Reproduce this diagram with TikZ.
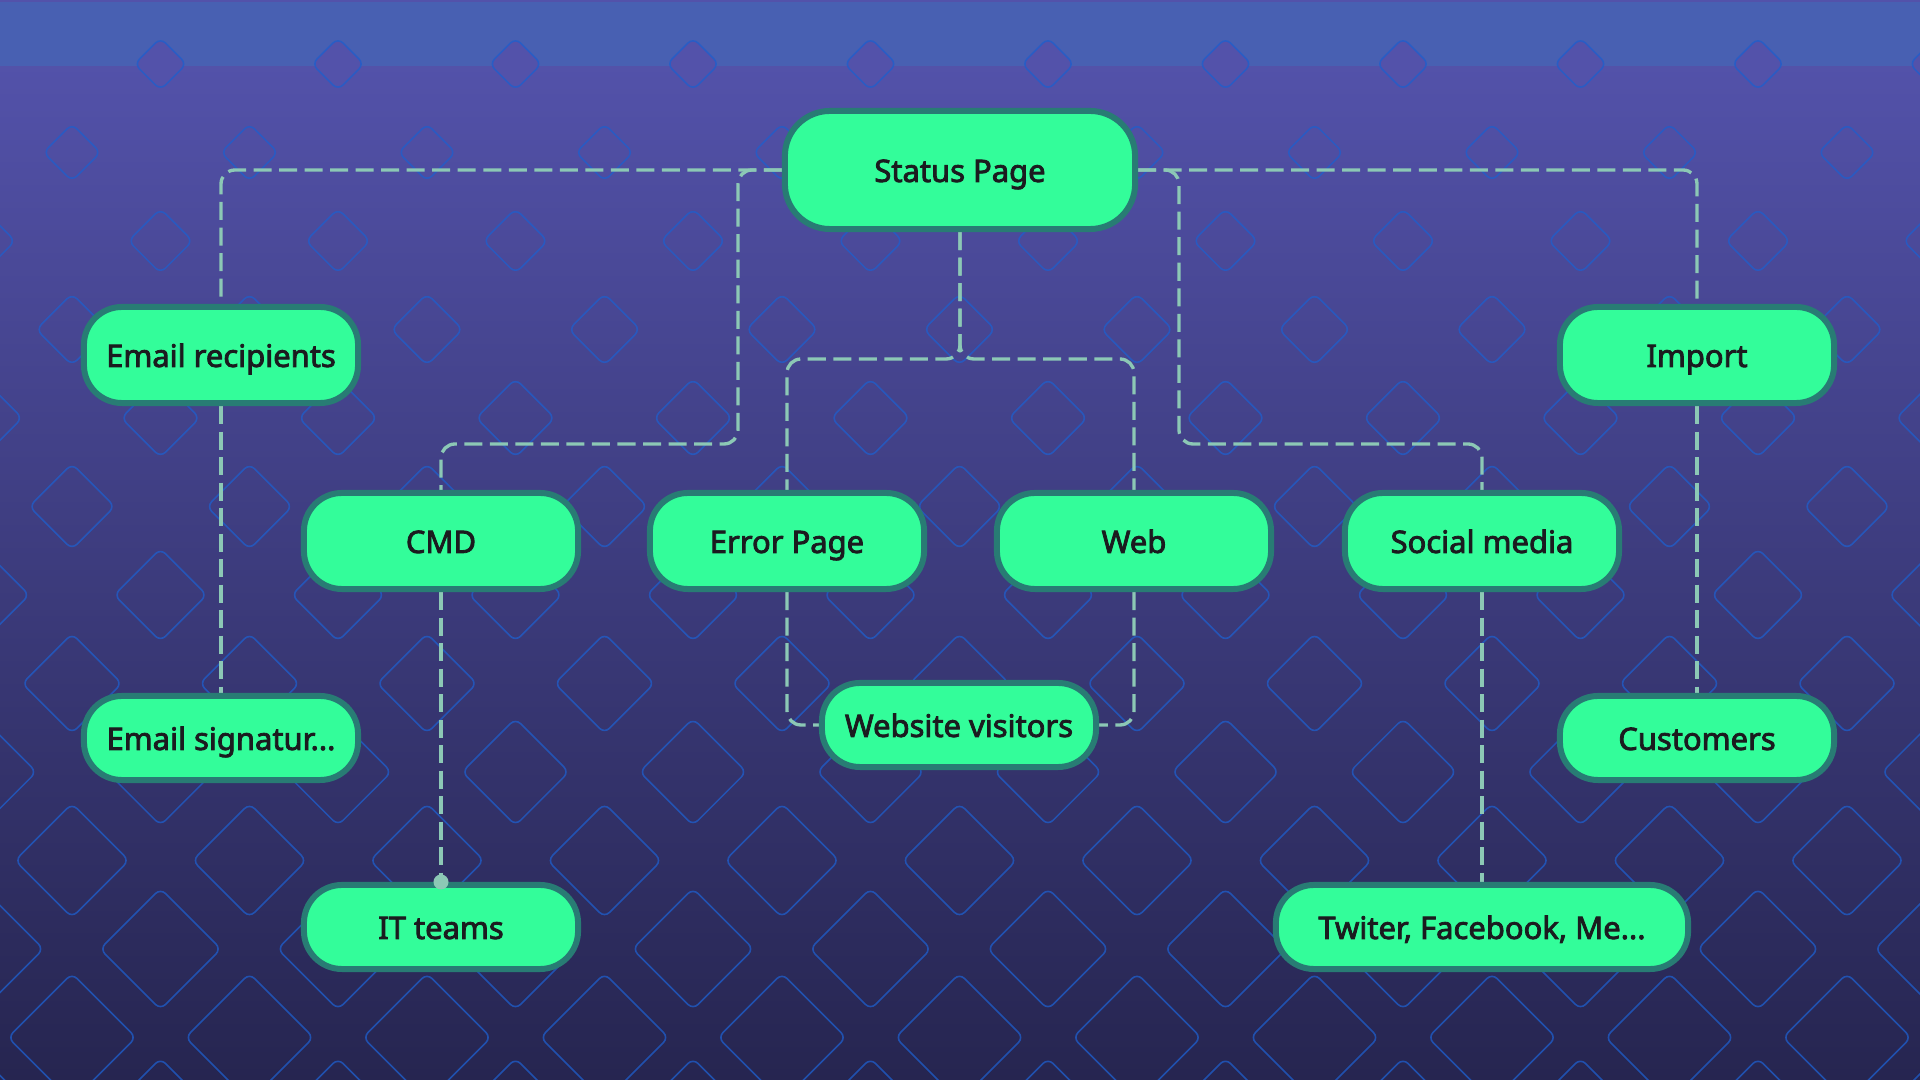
\documentclass[tikz,border=0pt]{standalone}
\usepackage{fontspec}
\setmainfont{Noto Sans}[AutoFakeBold=2.6]
\usetikzlibrary{positioning}
\definecolor{bgtop}{RGB}{83,82,170}
\definecolor{bgbot}{RGB}{38,37,80}
\definecolor{bandcol}{RGB}{72,96,178}
\definecolor{diamcol}{RGB}{30,95,205}
\definecolor{tagfill}{RGB}{51,253,154}
\definecolor{tagline}{RGB}{40,124,116}
\definecolor{tagtext}{RGB}{27,27,31}
\definecolor{linkcol}{RGB}{140,200,181}
\pgfdeclarelayer{back}
\pgfdeclarelayer{links}
\pgfsetlayers{back,links,main}

\begin{document}
\begin{tikzpicture}[
    x=0.01cm,
    y=-0.01cm,
    tag/.style={draw=tagline, fill=tagfill, line width=1.7pt, rounded corners=0.38cm, minimum width=2.74cm, minimum height=0.96cm, inner sep=0pt, text height=0.72em, text depth=0.04em, text=tagtext, font=\bfseries\fontsize{8.8}{10}\selectfont},
    lowtag/.style={tag, minimum height=0.84cm},
    toptag/.style={tag, minimum width=3.5cm, minimum height=1.18cm, rounded corners=0.45cm},
    diam/.style={draw=diamcol, draw opacity=0.75, line width=0.45pt, rounded corners=0.07cm},
    link/.style={draw=linkcol, line width=0.95pt, dash pattern=on 0.18cm off 0.075cm, rounded corners=0.14cm},
    dot/.style={circle, fill=linkcol, inner sep=0pt, minimum size=0.15cm}
]
\useasboundingbox (0,0) rectangle (1920,1080);

\begin{pgfonlayer}{back}
\fill[bgtop] (0,0) rectangle (1920,60);
\shade[top color=bgtop, bottom color=bgbot] (0,60) rectangle (1920,1080);
\fill[bandcol] (0,2) rectangle (1920,66);
\foreach \r in {1,...,12} {
    \pgfmathsetmacro\yy{64+88.5*\r}
    \pgfmathsetmacro\hs{(45+0.08*\yy)/2}
    \pgfmathsetmacro\xo{mod(\r,2)==0 ? -17 : -105.5}
    \foreach \k in {0,...,12}
        \draw[diam] (\xo+177.5*\k,\yy-\hs) -- ++(\hs,\hs) -- ++(-\hs,\hs) -- ++(-\hs,-\hs) -- cycle;
}
\foreach \k in {0,...,11}
    \filldraw[diam, fill=bgtop] (160.5+177.5*\k,38) -- ++(26,26) -- ++(-26,26) -- ++(-26,-26) -- cycle;
\end{pgfonlayer}

\node[toptag] (status) at (960,170) {Status Page};
\node[tag] (emailrec) at (221,355) {Email recipients};
\node[tag] (import) at (1697,355) {Import};
\node[tag] (cmd) at (441,541) {CMD};
\node[tag] (errorpage) at (787,541) {Error Page};
\node[tag] (web) at (1134,541) {Web};
\node[tag] (social) at (1482,541) {Social media};
\node[lowtag] (emailsig) at (221,738) {Email signatur...};
\node[lowtag] (customers) at (1697,738) {Customers};
\node[lowtag] (visitors) at (959,725) {Website visitors};
\node[lowtag] (itteams) at (441,927) {IT teams};
\node[lowtag, minimum width=4.12cm] (twitter) at (1482,927) {Twiter, Facebook, Me...};
\coordinate (lsplit) at (738,444);
\coordinate (rsplit) at (1179,444);
\coordinate (msplit) at (960,359);

\begin{pgfonlayer}{links}
\draw[link] (status.west) -| (emailrec.north);
\draw[link] (status.west) -| (lsplit) -| (cmd.north);
\draw[link] (status.east) -| (import.north);
\draw[link] (status.east) -| (rsplit) -| (social.north);
\draw[link] (status.south) -- (msplit) -| (errorpage.north);
\draw[link] (status.south) -- (msplit) -| (web.north);
\draw[link] (emailrec.south) -- (emailsig.north);
\draw[link] (cmd.south) -- (itteams.north);
\draw[link] (errorpage.south) |- (visitors.west);
\draw[link] (web.south) |- (visitors.east);
\draw[link] (social.south) -- (twitter.north);
\draw[link] (import.south) -- (customers.north);
\end{pgfonlayer}
\node[dot] (itdot) at (itteams.north) {};
\end{tikzpicture}
\end{document}
